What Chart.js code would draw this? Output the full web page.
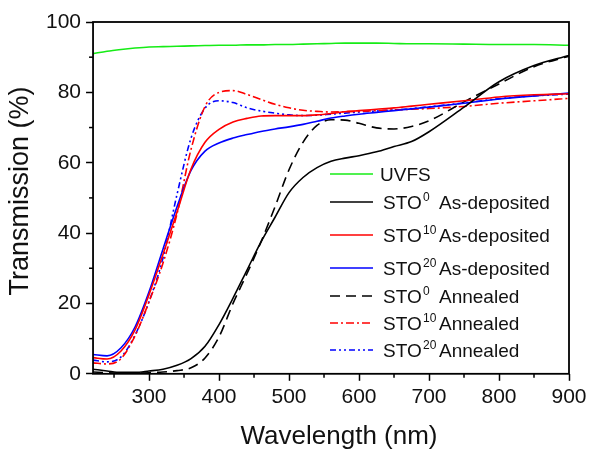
<!DOCTYPE html>
<html>
<head>
<meta charset="utf-8">
<script src="https://cdn.jsdelivr.net/npm/chart.js@4.4.1/dist/chart.umd.min.js"></script>
<style>
  html, body { margin: 0; padding: 0; background: #fff; }
  canvas { display: block; }
</style>
</head>
<body>
<canvas id="myChart" width="591" height="450"></canvas>
<script>
// wavelength grid (nm) shared by all spectra
const wavelength = [220, 240, 260, 280, 300, 320, 340, 360, 380, 400,
  420, 440, 460, 480, 500, 520, 540, 560, 580, 600,
  625, 650, 675, 700, 750, 800, 850, 900];

// transmission (%)
const uvfs = [91.0, 91.7, 92.2, 92.6, 92.9, 93.0, 93.1, 93.2, 93.3, 93.4,
  93.4, 93.5, 93.5, 93.6, 93.6, 93.7, 93.8, 93.9, 94.0, 94.0,
  94.0, 93.9, 93.8, 93.8, 93.7, 93.6, 93.6, 93.4];
const sto0AsDep = [1.3, 0.8, 0.4, 0.4, 0.8, 1.3, 2.4, 4.3, 7.8, 14.0,
  21.5, 29.5, 37.5, 44.5, 51.5, 55.8, 58.6, 60.4, 61.3, 62.0,
  63.1, 64.6, 66.0, 68.8, 75.8, 83.0, 87.6, 90.5];
const sto10AsDep = [4.6, 4.2, 6.5, 12.5, 22.5, 34.0, 46.0, 58.2, 65.8, 69.5,
  71.6, 72.6, 73.3, 73.4, 73.4, 73.4, 73.6, 74.0, 74.5, 74.8,
  75.2, 75.6, 76.1, 76.6, 77.6, 78.7, 79.3, 79.6];
const sto20AsDep = [5.5, 5.1, 7.4, 13.3, 23.3, 35.5, 47.5, 57.8, 63.3, 65.6,
  67.0, 68.0, 68.9, 69.6, 70.2, 70.9, 71.8, 72.7, 73.3, 73.8,
  74.3, 74.8, 75.3, 75.8, 76.9, 78.1, 79.0, 79.8];
const sto0Annealed = [0.5, 0.3, 0.2, 0.2, 0.3, 0.5, 0.9, 1.7, 4.5, 10.5,
  20.0, 28.5, 37.5, 47.5, 58.0, 65.8, 70.6, 72.2, 72.1, 71.2,
  69.9, 69.6, 70.3, 71.9, 77.3, 82.4, 87.3, 90.3];
const sto10Annealed = [3.1, 2.8, 4.3, 10.8, 20.5, 31.5, 45.5, 63.8, 76.0, 80.0,
  80.5, 79.4, 78.0, 76.6, 75.6, 74.9, 74.6, 74.4, 74.5, 74.6,
  74.8, 75.0, 75.2, 75.4, 76.0, 76.9, 77.6, 78.3];
const sto20Annealed = [3.9, 3.4, 4.8, 11.0, 20.5, 33.0, 51.0, 67.0, 75.5, 77.6,
  77.1, 75.6, 74.7, 74.1, 73.6, 73.4, 73.5, 73.8, 74.1, 74.4,
  74.7, 75.0, 75.4, 75.9, 77.0, 78.2, 79.0, 79.5];

// legend text pieces: sample, doping superscript, state
const sampleNames = ['UVFS', 'STO', 'STO', 'STO', 'STO', 'STO', 'STO'];
const sampleDoping = ['', '0', '10', '20', '0', '10', '20'];
const sampleState = ['', 'As-deposited', 'As-deposited', 'As-deposited', 'Annealed', 'Annealed', 'Annealed'];

// axis ticks
const xTicks = [300, 400, 500, 600, 700, 800, 900];
const xMinorTicks = [250, 350, 450, 550, 650, 750, 850];
const yTicks = [0, 20, 40, 60, 80, 100];
const yMinorTicks = [10, 30, 50, 70, 90];

const series = [uvfs, sto0AsDep, sto10AsDep, sto20AsDep, sto0Annealed, sto10Annealed, sto20Annealed];
const colors = ['#16ec16', '#000000', '#ff0000', '#0000ff', '#000000', '#ff0000', '#0000ff'];
const dashes = [[], [], [], [], [10, 6], [8, 3, 2, 3], [6, 3, 2, 3, 2, 3]];

const FONT = '"Liberation Sans", Arial, sans-serif';

const datasets = series.map((values, i) => ({
  label: sampleNames[i] + sampleDoping[i] + (sampleState[i] ? ' ' + sampleState[i] : ''),
  data: values.map((v, j) => ({ x: wavelength[j], y: v })),
  borderColor: colors[i],
  borderDash: dashes[i],
  borderWidth: 1.6,
  pointRadius: 0,
  fill: false,
  cubicInterpolationMode: 'monotone'
}));

function line(ctx, x1, y1, x2, y2) {
  ctx.beginPath();
  ctx.moveTo(x1, y1);
  ctx.lineTo(x2, y2);
  ctx.stroke();
}

// frame, minor ticks, axis titles and the legend
const extras = {
  id: 'extras',
  afterDatasetsDraw(chart) {
    const { ctx, chartArea: a, scales: { x, y } } = chart;
    ctx.save();
    ctx.strokeStyle = '#000';
    ctx.lineWidth = 1.5;
    xMinorTicks.forEach(v => {
      const px = x.getPixelForValue(v);
      line(ctx, px, a.bottom, px, a.bottom + 4);
    });
    yMinorTicks.forEach(v => {
      const py = y.getPixelForValue(v);
      line(ctx, a.left - 4, py, a.left, py);
    });
    ctx.lineWidth = 1.8;
    ctx.strokeRect(a.left, a.top, a.right - a.left, a.bottom - a.top);

    // axis titles
    ctx.fillStyle = '#111';
    ctx.font = '26px ' + FONT;
    ctx.textAlign = 'center';
    ctx.textBaseline = 'alphabetic';
    ctx.fillText('Wavelength (nm)', 339, 444);
    ctx.save();
    ctx.translate(21, 191);
    ctx.rotate(-Math.PI / 2);
    ctx.font = '27px ' + FONT;
    ctx.textBaseline = 'middle';
    ctx.fillText('Transmission (%)', 0, 0);
    ctx.restore();

    // legend
    const rowY = [174, 202, 235, 268, 296, 323, 350];
    chart.data.datasets.forEach((ds, i) => {
      const yy = rowY[i];
      ctx.strokeStyle = ds.borderColor;
      ctx.lineWidth = 1.6;
      ctx.setLineDash(ds.borderDash);
      line(ctx, 330, yy, 373, yy);
      ctx.setLineDash([]);
      ctx.fillStyle = '#111';
      ctx.textAlign = 'left';
      ctx.textBaseline = 'alphabetic';
      ctx.font = '19px ' + FONT;
      if (!sampleDoping[i]) {
        ctx.fillText(sampleNames[i], 380, yy + 7);
        return;
      }
      ctx.fillText(sampleNames[i], 383, yy + 7);
      ctx.font = '12px ' + FONT;
      ctx.fillText(sampleDoping[i], 423, yy - 1);
      ctx.font = '19px ' + FONT;
      ctx.fillText(sampleState[i], 439, yy + 7);
    });
    ctx.restore();
  }
};

const ctx = document.getElementById('myChart').getContext('2d');
const chart = new Chart(ctx, {
  type: 'line',
  data: { datasets: datasets },
  options: {
    responsive: false,
    animation: false,
    layout: { padding: { left: 41, right: 22, top: 22, bottom: 36 } },
    plugins: { legend: { display: false }, tooltip: { enabled: false } },
    scales: {
      x: {
        type: 'linear',
        min: 220,
        max: 900,
        afterBuildTicks: scale => { scale.ticks = xTicks.map(v => ({ value: v })); },
        border: { display: false },
        grid: { drawOnChartArea: false, tickLength: 7, tickWidth: 1.5, tickColor: '#000' },
        ticks: { color: '#111', font: { family: FONT, size: 21 }, padding: 4, maxRotation: 0 }
      },
      y: {
        min: 0,
        max: 100,
        afterBuildTicks: scale => { scale.ticks = yTicks.map(v => ({ value: v })); },
        border: { display: false },
        grid: { drawOnChartArea: false, tickLength: 7, tickWidth: 1.5, tickColor: '#000' },
        ticks: { color: '#111', font: { family: FONT, size: 21 }, padding: 5 }
      }
    }
  },
  plugins: [extras]
});
</script>
</body>
</html>
